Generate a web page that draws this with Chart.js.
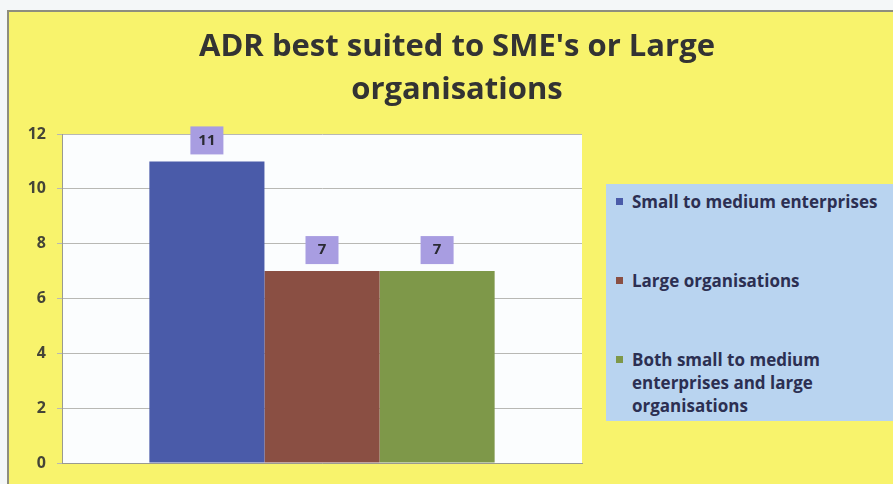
<!DOCTYPE html>
<html>
<head>
<meta charset="utf-8">
<script src="https://cdn.jsdelivr.net/npm/chart.js@4.4.1/dist/chart.umd.min.js"></script>
<style>
    body { margin: 0; background: #f4f7f8; width: 893px; height: 484px; overflow: hidden; }
    #wrap {
        position: absolute; left: 7px; top: 10px; width: 884px; height: 472px;
        background: #f8f36c; border-top: 2px solid #8e8e7e; border-left: 2px solid #8e8e7e;
    }
    #chart_adr { display: block; }
    #legend {
        position: absolute; left: 606px; top: 184px; width: 287px; height: 237px;
        background: #b9d4f0; box-sizing: border-box; padding: 6px 0 0 10px;
        font-family: "Open Sans", sans-serif; font-weight: bold; font-size: 17px;
        color: #2c2f52; line-height: 23px;
    }
    .item { display: flex; align-items: flex-start; margin-bottom: 56px; }
    .box { width: 7px; height: 7px; margin: 8px 9px 0 0; flex: none; }
    .txt { width: 256px; }
</style>
</head>
<body>
<div id="wrap"><canvas id="chart_adr" width="884" height="472"></canvas></div>
<div id="legend"></div>
<script>

var chart_title = ["ADR best suited to SME's or Large", "organisations"];
var series_names = ["Small to medium enterprises", "Large organisations", "Both small to medium enterprises and large organisations"];
var series_values = [11, 7, 7];
var series_colors = ["#4a5ba9", "#8a4f43", "#7e9849"];
var y_ticks = [0, 2, 4, 6, 8, 10, 12];

// white plot area behind the bars
var plotBg = {
    id: 'plotBg',
    beforeDraw: (chart)=>{
        let a = chart.chartArea;
        let ctx = chart.ctx;
        ctx.save();
        ctx.fillStyle = '#fbfdfe';
        ctx.fillRect(a.left, a.top, a.right - a.left, a.bottom - a.top);
        ctx.restore();
    }
};

// title centred over the whole frame (legend included)
var frameTitle = {
    id: 'frameTitle',
    afterDraw: (chart)=>{
        let ctx = chart.ctx;
        ctx.save();
        ctx.fillStyle = '#333333';
        ctx.font = 'bold 31px "Open Sans"';
        ctx.textAlign = 'center';
        ctx.textBaseline = 'middle';
        for (let i = 0; i < chart_title.length; i++) {
            ctx.fillText(chart_title[i], 448, 35 + i * 43);
        }
        ctx.restore();
    }
};

// purple value boxes above the bars
var valueBoxes = {
    id: 'valueBoxes',
    afterDatasetsDraw: (chart)=>{
        let ctx = chart.ctx;
        ctx.save();
        chart.data.datasets.forEach((ds, i)=>{
            let bar = chart.getDatasetMeta(i).data[0];
            let w = 33, h = 28;
            ctx.fillStyle = '#a89de1';
            ctx.fillRect(bar.x - w / 2, bar.y - 7 - h, w, h);
            ctx.fillStyle = '#2a2a33';
            ctx.font = 'bold 15px "Open Sans"';
            ctx.textAlign = 'center';
            ctx.textBaseline = 'middle';
            ctx.fillText(ds.data[0], bar.x, bar.y - 7 - h / 2);
        });
        ctx.restore();
    }
};

function drawLegend() {
    let html = '';
    for (let i = 0; i < series_names.length; i++) {
        html += '<div class="item"><div class="box" style="background:' + series_colors[i] + '"></div>'
             + '<div class="txt">' + series_names[i] + '</div></div>';
    }
    document.getElementById('legend').innerHTML = html;
}

function drawChart() {
    let datasets = [];
    for (let i = 0; i < series_names.length; i++) {
        datasets.push({
            label: series_names[i],
            data: [series_values[i]],
            backgroundColor: series_colors[i],
            borderWidth: 0,
            barPercentage: 1,
            categoryPercentage: 0.664,
        });
    }

    new Chart(document.getElementById('chart_adr').getContext('2d'), {
        type: 'bar',
        data: { labels: [''], datasets: datasets },
        options: {
            responsive: false,
            animation: false,
            layout: { padding: { left: 0, right: 311, top: 122, bottom: 13 } },
            plugins: {
                legend: { display: false },
                tooltip: { enabled: false },
                title: { display: false }
            },
            scales: {
                x: {
                    grid: { display: false },
                    ticks: { display: false },
                    border: { display: true, color: '#9a9a90', width: 1 },
                },
                y: {
                    min: 0,
                    max: 12,
                    afterBuildTicks: (scale)=>{ scale.ticks = y_ticks.map(v=>({ value: v })); },
                    afterFit: (scale)=>{ scale.width = 53; },
                    grid: { color: '#b8b8b4', tickLength: 5, lineWidth: 1 },
                    border: { display: true, color: '#9a9a90', width: 1 },
                    ticks: {
                        color: '#444438',
                        padding: 11,
                        font: { family: 'Open Sans', size: 16, weight: 'bold' },
                    }
                }
            }
        },
        plugins: [plotBg, valueBoxes, frameTitle]
    });
}

drawLegend();
drawChart();

</script>
</body>
</html>
